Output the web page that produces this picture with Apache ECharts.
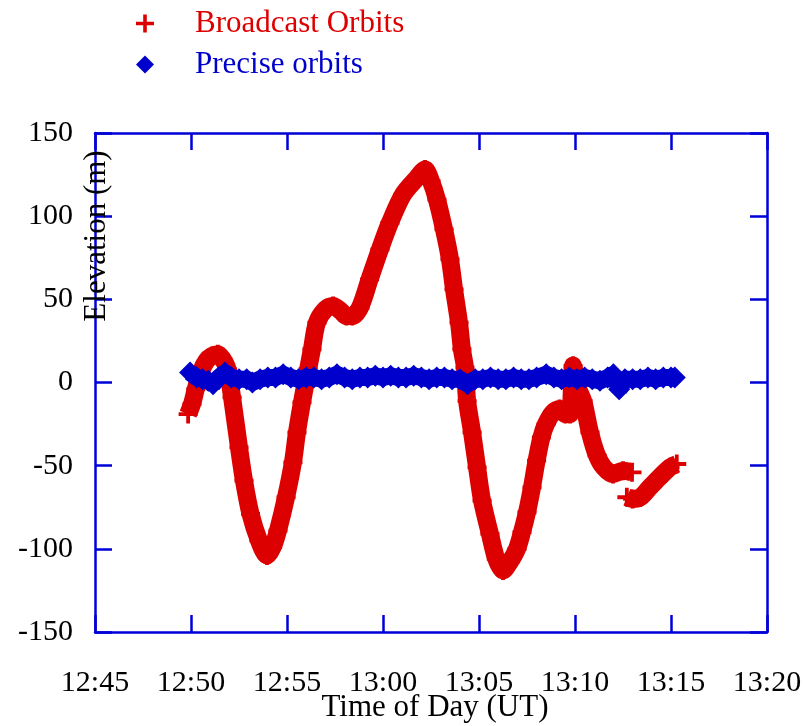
<html>
<head>
<meta charset="utf-8">
<script src="https://cdn.jsdelivr.net/npm/echarts@6/dist/echarts.min.js"></script>
</head>
<body style="margin:0">
<div id="main" style="width:806px;height:726px;"></div>
<script type="text/javascript">
// time is given in minutes after 12:00 UT, elevation in metres
var broadcastA = [
  [49.85,-19],[50.05,-13],[50.25,-4],[50.5,6],[50.8,13],[51.1,16],[51.4,17],[51.65,14],[51.9,8],
  [52.14,-9],[52.5,-39],[52.76,-59],[53.1,-79],[53.54,-95],[53.96,-104],[54.25,-99],[54.53,-89],
  [54.95,-69],[55.31,-48],[55.52,-30],[55.78,-12],[56.1,8],[56.3,20],[56.56,36],[57.0,44],
  [57.4,46],[57.8,43],[58.1,40],[58.4,40],[58.8,45],[59.3,62],[59.84,80],[60.36,96],[61.04,113],
  [61.77,123],[62.19,128],[62.5,121],[62.81,110],[63.18,92],[63.49,74],[63.7,56],[63.96,36],
  [64.11,20],[64.27,9],[64.38,-11],[64.64,-30],[64.9,-51],[65.16,-71],[65.57,-91],[65.9,-106],
  [66.25,-113],[66.6,-108],[66.98,-100],[67.24,-90],[67.5,-78],[67.76,-63],[68.0,-47],[68.25,-33],
  [68.49,-25],[68.85,-18],[69.2,-16],[69.5,-19],[69.74,-19],[69.9,10],[70.1,-2],[70.42,-11],
  [70.78,-30],[71.15,-44],[71.5,-51],[71.98,-55],[72.5,-53],[72.97,-54]
];
var broadcastB = [
  [72.7,-69],[73.0,-70],[73.4,-69],[73.9,-63],[74.4,-57],[74.95,-51],[75.3,-49]
];
var precise = [
  [49.95,6],[50.3,3],[50.6,2],[50.9,1],[51.15,-1],[51.45,3],[51.77,6],[52.1,3],[52.5,2],[52.9,2],
  [53.2,0],[53.6,2],[54.0,3],[54.4,3],[54.8,5],[55.2,3],[55.6,2],[56.0,3],[56.4,3],[56.8,2],
  [57.2,3],[57.6,5],[58.0,3],[58.4,2],[58.8,3],[59.2,3],[59.6,4],[60.0,3],[60.4,4],[60.8,3],
  [61.2,3],[61.6,4],[62.0,3],[62.4,2],[62.8,3],[63.2,3],[63.6,2],[64.0,2],[64.4,-1],[64.8,2],
  [65.2,2],[65.6,3],[66.0,2],[66.4,2],[66.8,3],[67.2,2],[67.6,2],[68.0,3],[68.5,5],[68.9,3],
  [69.3,2],[69.7,3],[70.1,2],[70.5,3],[70.9,2],[71.3,1],[71.7,3],[72.0,5],[72.3,-4],[72.6,2],
  [73.0,2],[73.4,2],[73.8,3],[74.2,2],[74.6,3],[75.0,3],[75.2,3]
];
var seriesNames = ['Broadcast Orbits', 'Precise orbits'];
var xTitle = 'Time of Day (UT)';
var yTitle = 'Elevation (m)';

var RED = '#dd0000', BLUE = '#0000cc', AXIS = '#0000d8';
var FONT = 'Liberation Serif';
var plus = 'path://M4,0h2v4h4v2h-4v4h-2v-4h-4v-2h4z';

function timeLabel(v) {
  var h = 12 + Math.floor(v / 60), m = v % 60;
  return h + ':' + (m < 10 ? '0' + m : m);
}

var myChart = echarts.init(document.getElementById('main'));

var axisCommon = {
  axisLine: { onZero: false, lineStyle: { color: AXIS, width: 2.5 } },
  axisTick: { inside: true, length: 17, lineStyle: { color: AXIS, width: 2.5 } },
  splitLine: { show: false }
};

var option = {
  animation: false,
  backgroundColor: '#fff',
  grid: { left: 95, right: 39, top: 133, bottom: 94, outerBoundsMode: 'none' },
  legend: {
    orient: 'vertical',
    left: 131, top: 3,
    itemWidth: 18, itemHeight: 18, itemGap: 10,
    textStyle: { fontFamily: FONT, fontSize: 31, padding: [0, 0, 0, 36] },
    data: [
      { name: seriesNames[0], icon: plus, textStyle: { color: RED } },
      { name: seriesNames[1], icon: 'diamond', textStyle: { color: BLUE } }
    ]
  },
  xAxis: [
    Object.assign({
      type: 'value', min: 45, max: 80, interval: 5, position: 'bottom',
      axisLabel: { formatter: timeLabel, fontFamily: FONT, fontSize: 30, color: '#000', margin: 36 }
    }, axisCommon),
    Object.assign({
      type: 'value', min: 45, max: 80, interval: 5, position: 'top',
      axisLabel: { show: false }
    }, axisCommon)
  ],
  yAxis: [
    Object.assign({
      type: 'value', min: -150, max: 150, interval: 50, position: 'left',
      axisLabel: { fontFamily: FONT, fontSize: 30, color: '#000', margin: 22, padding: [6, 0, 0, 0] }
    }, axisCommon),
    Object.assign({
      type: 'value', min: -150, max: 150, interval: 50, position: 'right',
      axisLabel: { show: false }
    }, axisCommon)
  ],
  graphic: [{
    type: 'text',
    x: 97, y: 236,
    rotation: Math.PI / 2,
    style: {
      text: yTitle, fontFamily: FONT, fontSize: 31, fill: '#000',
      align: 'center', verticalAlign: 'middle'
    },
    z: 100
  }, {
    type: 'text',
    x: 435, y: 708,
    style: {
      text: xTitle, fontFamily: FONT, fontSize: 31, fill: '#000',
      align: 'center', verticalAlign: 'middle'
    }
  }],
  series: [
    {
      name: seriesNames[0], type: 'line', data: broadcastA, smooth: 0.3,
      symbol: plus, symbolSize: 19, showAllSymbol: true,
      lineStyle: { color: RED, width: 18 }, itemStyle: { color: RED }, z: 2
    },
    {
      name: seriesNames[0], type: 'line', data: broadcastB, smooth: 0.3,
      symbol: plus, symbolSize: 19, showAllSymbol: true,
      lineStyle: { color: RED, width: 18 }, itemStyle: { color: RED }, z: 2
    },
    {
      name: seriesNames[1], type: 'line', data: precise,
      symbol: 'diamond', symbolSize: 22, showAllSymbol: true,
      lineStyle: { color: BLUE, width: 17 }, itemStyle: { color: BLUE }, z: 3
    }
  ]
};

myChart.setOption(option);
</script>
</body>
</html>
